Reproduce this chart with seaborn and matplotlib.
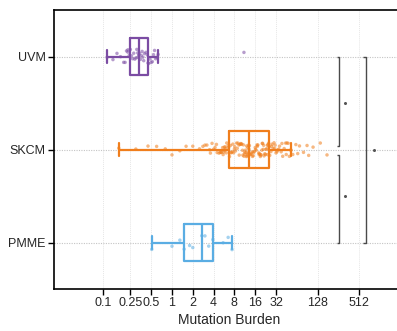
import numpy as np
import pandas as pd
import matplotlib
matplotlib.use("Agg")
import matplotlib.pyplot as plt
import seaborn as sns

# tumour types (top to bottom) and colours
groups = ["UVM", "SKCM", "PMME"]
colors = {"UVM": "#7b4ca3", "SKCM": "#f07e1c", "PMME": "#5aade3"}

# mutation burden per sample
uvm = [0.115, 0.14, 0.16, 0.18, 0.2, 0.21, 0.22, 0.23, 0.23, 0.24, 0.25, 0.26,
       0.27, 0.28, 0.29, 0.30, 0.31, 0.32, 0.32, 0.33, 0.34, 0.35, 0.36, 0.37,
       0.38, 0.39, 0.40, 0.42, 0.44, 0.45, 0.46, 0.48, 0.50, 0.52, 0.54, 0.56,
       0.58, 0.60, 0.63, 11.0]
skcm = [0.17, 0.3, 0.45, 0.6, 0.8, 1.0, 1.3, 1.6, 2.0, 2.5,
        3.0, 3.2, 3.5, 3.8, 4.0, 4.2, 4.5, 4.8, 5.0, 5.2, 5.4, 5.6, 5.7, 5.8, 5.9,
        6.0,
        6.2, 6.5, 6.8, 7.0, 7.2, 7.5, 7.8, 8.0, 8.3, 8.6, 9.0, 9.3, 9.6, 9.9,
        10.2, 10.5, 10.8, 11.0, 11.3, 11.6, 11.8, 12.0, 12.2, 12.4,
        12.6,
        13.0, 13.5, 14.0, 14.5, 15.0, 15.5, 16.0, 16.5, 17.0, 17.5, 18.0, 18.5,
        19.0, 19.5, 20.0, 20.5, 21.0, 21.5, 22.0, 23.0, 23.5, 24.0, 24.5, 25.0,
        26.0,
        27, 28, 29, 30, 31, 32, 33, 35, 36, 38, 40, 42, 44, 46, 48, 50, 53, 56,
        62, 70, 80, 95, 110, 140, 175,
        # second batch, same spread
        2.8, 3.6, 4.4, 5.1, 5.5, 6.1, 6.6, 7.1, 7.6, 8.1, 8.8, 9.4, 10.0, 10.6,
        11.2, 11.9, 12.5, 12.8, 13.2, 13.8, 14.6, 15.2, 16.2, 17.2, 18.2, 19.2,
        20.2, 21.2, 22.5, 24.2, 25.5, 27.5, 30.5, 34, 39, 45, 52, 66, 90]
pmme = [0.51, 1.0, 1.3, 1.5, 1.8, 2.0, 2.7, 3.0, 3.4, 3.9, 5.5, 6.5, 7.4]

xticks = [0.1, 0.25, 0.5, 1, 2, 4, 8, 16, 32, 128, 512]
xticklabels = ["0.1", "0.25", "0.5", "1", "2", "4", "8", "16", "32", "128", "512"]

df = pd.concat([
    pd.DataFrame({"type": "UVM", "burden": uvm}),
    pd.DataFrame({"type": "SKCM", "burden": skcm}),
    pd.DataFrame({"type": "PMME", "burden": pmme}),
])

sns.set_style("white")
plt.rcParams["font.family"] = ["Liberation Sans", "DejaVu Sans"]

fig = plt.figure(figsize=(3.97, 3.31), dpi=100)
ax = fig.add_axes([54 / 397, 42 / 331, (405 - 54) / 397, (289 - 10) / 331])

# box statistics are taken on the raw values, the axis goes log2 afterwards
np.random.seed(3)
sns.stripplot(data=df, x="burden", y="type", hue="type", order=groups,
              palette=colors, jitter=0.08, size=2.5, alpha=0.55, linewidth=0,
              legend=False, ax=ax, zorder=2)
sns.boxplot(data=df, x="burden", y="type", hue="type", order=groups,
            palette=colors, fill=False, width=0.4, linewidth=1.6,
            showfliers=False, whis=1.5, legend=False, ax=ax,
            capwidths=0.13)
for line in ax.lines:
    line.set_zorder(3)

ax.set_xscale("log", base=2)
ax.set_xlim(2 ** -5.67, 2 ** 11.2)
ax.set_ylim(2.5, -0.5)
ax.set_xticks(xticks)
ax.set_xticklabels(xticklabels)
ax.xaxis.set_minor_locator(matplotlib.ticker.NullLocator())

ax.grid(axis="x", color="#e6e6e6", linestyle=(0, (1, 1)), linewidth=0.7)
ax.grid(axis="y", color="#c4c4c4", linestyle=(0, (1, 1.2)), linewidth=0.8)
ax.set_axisbelow(True)

for side in ["left", "bottom", "top"]:
    ax.spines[side].set_color("black")
    ax.spines[side].set_linewidth(1.2)
ax.spines["right"].set_visible(False)
ax.tick_params(axis="both", which="major", length=4, width=1, color="black",
               labelsize=9, pad=2, direction="out", left=True, bottom=True)

ax.set_xlabel("Mutation Burden", fontsize=10, labelpad=3)
ax.set_ylabel("")

# significance brackets: (x of bar, x of ticks, y0, y1, x of mark, y of mark)
brackets = [
    (261, 245, 0.0, 0.96, 321, 0.5),
    (261, 245, 1.06, 2.0, 321, 1.5),
    (643, 585, 0.0, 2.0, 843, 1.0),
]
for xb, xt, y0, y1, xm, ym in brackets:
    ax.plot([xt, xb, xb, xt], [y0, y0, y1, y1], color="#4a4a4a", lw=1.0,
            zorder=4, solid_capstyle="butt")
    ax.plot([xm], [ym], marker="o", ms=1.2, color="#555555", zorder=4)

fig.savefig("out.png", dpi=100)
